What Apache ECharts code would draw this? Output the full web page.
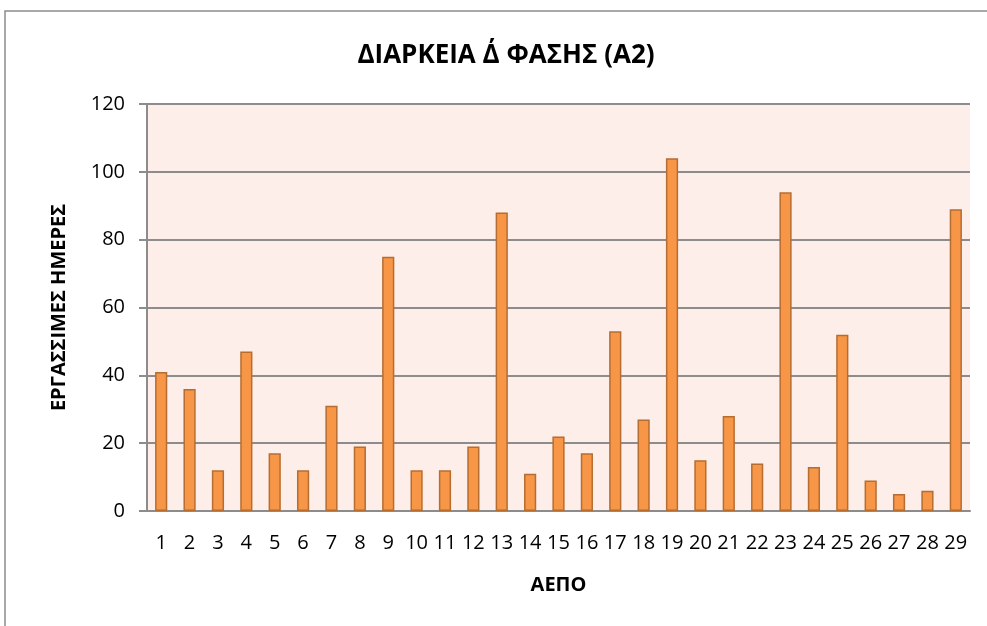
<!DOCTYPE html>
<html lang="el">
  <head>
    <meta charset="UTF-8" />
    <title>ΔΙΑΡΚΕΙΑ Δ΄ ΦΑΣΗΣ (Α2)</title>
    <script src="https://cdn.jsdelivr.net/npm/echarts@6/dist/echarts.min.js"></script>
    <style>
      html, body { margin: 0; padding: 0; background: #fff; }
    </style>
  </head>
  <body>
    <div id="main" style="width: 987px;height:626px;"></div>
    <script type="text/javascript">
      // ΑΕΠΟ 1..29
      var categories = ["1","2","3","4","5","6","7","8","9","10","11","12","13","14","15",
        "16","17","18","19","20","21","22","23","24","25","26","27","28","29"];
      var days = [41, 36, 12, 47, 17, 12, 31, 19, 75, 12, 12, 19, 88, 11, 22,
        17, 53, 27, 104, 15, 28, 14, 94, 13, 52, 9, 5, 6, 89];
      var yTicks = [0, 20, 40, 60, 80, 100, 120];

      var font = "'Open Sans', 'Noto Sans', sans-serif";
      var myChart = echarts.init(document.getElementById("main"));
      myChart.setOption({
        animation: false,
        backgroundColor: "#fff",
        textStyle: { fontFamily: font },
        title: {
          text: "ΔΙΑΡΚΕΙΑ Δ΄ ΦΑΣΗΣ (Α2)",
          left: 501,
          top: 38,
          textAlign: "center",
          textStyle: { fontSize: 26, fontWeight: "bold", color: "#000", fontFamily: font }
        },
        graphic: [
          {
            type: "rect",
            shape: { x: 5, y: 11, width: 1000, height: 640 },
            style: { fill: "none", stroke: "#8c8c8c", lineWidth: 1.5 },
            silent: true
          }
        ],
        grid: {
          left: 147,
          right: 17,
          top: 104,
          bottom: 115,
          show: true,
          backgroundColor: "#fdeee9",
          borderWidth: 0
        },
        xAxis: {
          type: "category",
          data: categories,
          name: "ΑΕΠΟ",
          nameLocation: "middle",
          nameGap: 64,
          nameTextStyle: { fontSize: 20, fontWeight: "bold", color: "#000" },
          axisLine: { lineStyle: { color: "#8c8c8c", width: 2 } },
          axisTick: { show: false },
          axisLabel: { interval: 0, fontSize: 20, color: "#000", margin: 22 }
        },
        yAxis: {
          type: "value",
          min: yTicks[0],
          max: yTicks[yTicks.length - 1],
          interval: 20,
          name: "ΕΡΓΑΣΣΙΜΕΣ ΗΜΕΡΕΣ",
          nameLocation: "middle",
          nameGap: 78,
          nameTextStyle: { fontSize: 20, fontWeight: "bold", color: "#000" },
          axisLine: { show: true, lineStyle: { color: "#8c8c8c", width: 2 } },
          axisTick: { show: true, length: 8, lineStyle: { color: "#8c8c8c", width: 2 } },
          axisLabel: { fontSize: 20, color: "#000", margin: 22 },
          splitLine: { lineStyle: { color: "#8c8c8c", width: 2 } }
        },
        series: [
          {
            type: "bar",
            data: days,
            barWidth: "43%",
            itemStyle: { color: "#f79646", borderColor: "#b66d31", borderWidth: 1.5 }
          }
        ]
      });
    </script>
  </body>
</html>
